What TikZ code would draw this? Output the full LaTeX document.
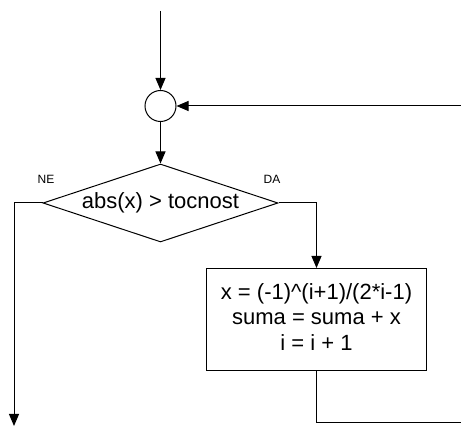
\documentclass[tikz,border=0pt]{standalone}
\usepackage{fontspec}
\setmainfont{Liberation Sans}
\usetikzlibrary{shapes.geometric,arrows.meta}
\begin{document}
\begin{tikzpicture}[x=1pt,y=-1pt, line width=1pt,
 arr/.style={-{Triangle[length=12pt,width=10pt]}},
 dec/.style={draw, diamond, aspect=3, inner sep=0pt, minimum width=235pt, minimum height=78pt, font=\fontsize{22}{25.7}\selectfont},
 proc/.style={draw, rectangle, minimum width=220pt, minimum height=102pt, align=center, inner sep=0pt, font=\fontsize{22}{25.7}\selectfont},
 conn/.style={draw, circle, minimum size=31pt, inner sep=0pt},
 lbl/.style={font=\fontsize{12}{14}\selectfont, inner sep=0pt}]
\useasboundingbox (0,0) rectangle (461,427);
\node[conn] (c) at (160.5,106) {};
\node[dec] (d) at (160.5,203) {abs(x) > tocnost};
\node[proc] (p) at (316.5,319.5) {x = (-1)\textasciicircum(i+1)/(2*i-1)\\suma = suma + x\\i = i + 1\rule[-5pt]{0pt}{5pt}};
\node[lbl] (ne) at (46,179) {NE};
\node[lbl] (da) at (272,179.5) {DA};
\coordinate (top) at (160.5,11);
\coordinate (rin) at (461,106);
\coordinate (out) at (461,423);
\coordinate (end) at (14,426);
\draw[arr] (top) -- (c);
\draw[arr] (rin) -- (c);
\draw[arr] (c) -- (d);
\draw[arr] (d.east) -| (p.north);
\draw (p.south) |- (out);
\draw[arr] (d.west) -| (end);
\end{tikzpicture}
\end{document}
